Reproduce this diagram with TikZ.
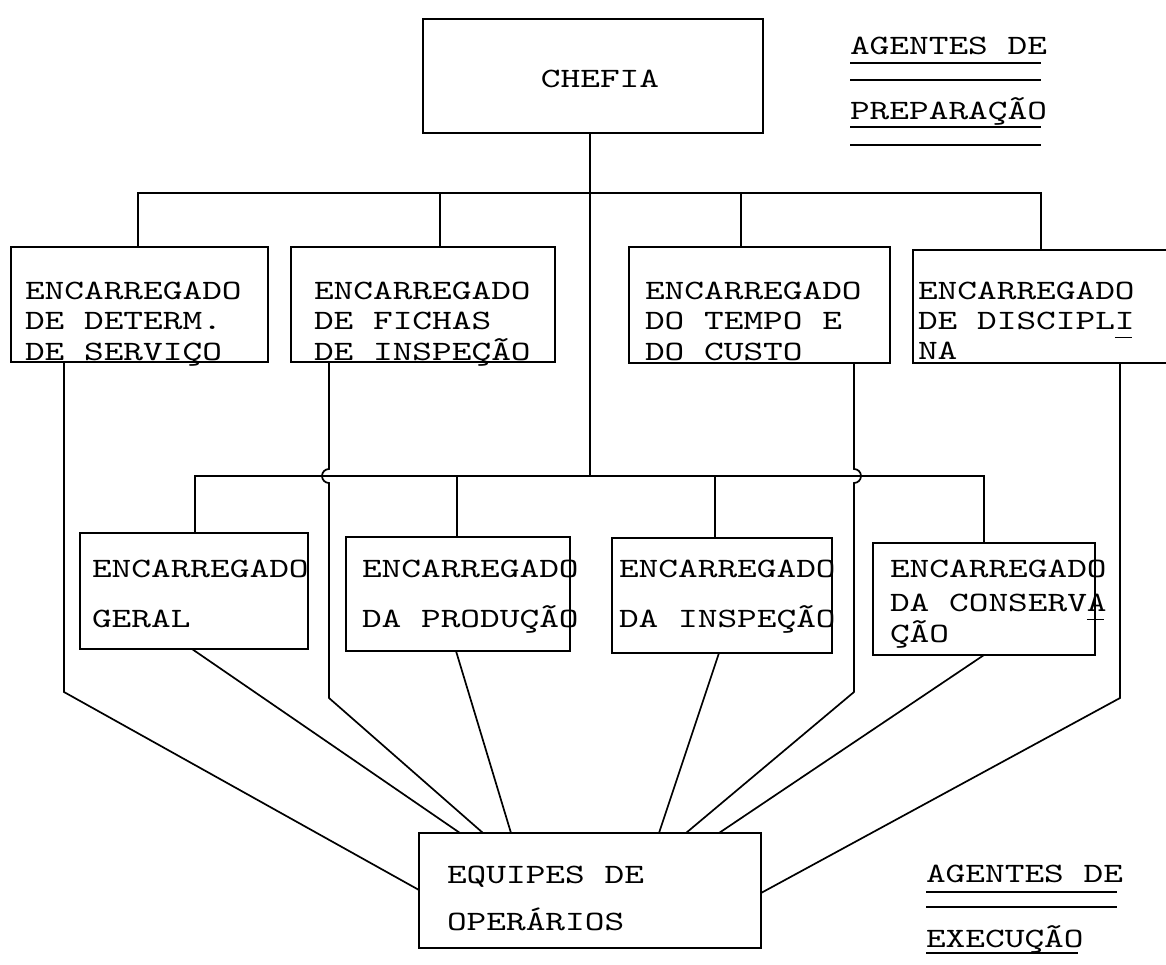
\documentclass[tikz,border=0pt]{standalone}
\usepackage{fontspec}
\newfontfamily\typewriter{lmmono10-regular.otf}[FakeStretch=1.34]
\usetikzlibrary{calc}
% short underscore placed under a letter, used as a hyphenation mark
\newcommand\ulmark[1]{\rlap{\rule[-9pt]{17pt}{1.3pt}}#1}
\begin{document}
\begin{tikzpicture}[x=1pt,y=-1pt,
  every node/.style={inner sep=0pt, outer sep=0pt},
  unit/.style={draw, line width=1.8pt, anchor=north west},
  txt/.style={font=\typewriter\fontsize{28}{32}\selectfont, anchor=base west},
  link/.style={line width=1.7pt},
  ruleline/.style={line width=1.5pt}]
\useasboundingbox (0,0) rectangle (1166,965);
\clip (0,0) rectangle (1166,965);

% ---- boxes ----
\node[unit, minimum width=340pt, minimum height=114pt] (chefia) at (423,19) {};
\node[unit, minimum width=257pt, minimum height=115pt] (b1) at (11,247) {};
\node[unit, minimum width=264pt, minimum height=115pt] (b2) at (291,247) {};
\node[unit, minimum width=261pt, minimum height=116pt] (b3) at (629,247) {};
\node[unit, minimum width=262pt, minimum height=113pt] (b4) at (913,250) {};
\node[unit, minimum width=228pt, minimum height=116pt] (b5) at (80,533) {};
\node[unit, minimum width=224pt, minimum height=114pt] (b6) at (346,537) {};
\node[unit, minimum width=220pt, minimum height=115pt] (b7) at (612,538) {};
\node[unit, minimum width=222pt, minimum height=112pt] (b8) at (873,543) {};
\node[unit, minimum width=342pt, minimum height=115pt] (eq) at (419,833) {};

% ---- texts ----
\node[txt, anchor=base] (chefia-t) at (600,88) {CHEFIA};
\foreach \s [count=\i] in {ENCARREGADO,DE DETERM.,DE SERVIÇO}
  \node[txt] (t1-\i) at (25,{300+30*(\i-1)}) {\s};
\foreach \s [count=\i] in {ENCARREGADO,DE FICHAS,DE INSPEÇÃO}
  \node[txt] (t2-\i) at (314,{300+30*(\i-1)}) {\s};
\foreach \s [count=\i] in {ENCARREGADO,DO TEMPO E,DO CUSTO}
  \node[txt] (t3-\i) at (645,{300+30*(\i-1)}) {\s};
\foreach \s [count=\i] in {ENCARREGADO,{DE DISCIPL\ulmark{I}},NA}
  \node[txt] (t4-\i) at (918,{299+30*(\i-1)}) {\s};
\foreach \s [count=\i] in {ENCARREGADO,GERAL}
  \node[txt] (t5-\i) at (92,{577+50*(\i-1)}) {\s};
\foreach \s [count=\i] in {ENCARREGADO,DA PRODUÇÃO}
  \node[txt] (t6-\i) at (362,{577+50*(\i-1)}) {\s};
\foreach \s [count=\i] in {ENCARREGADO,DA INSPEÇÃO}
  \node[txt] (t7-\i) at (619,{577+50*(\i-1)}) {\s};
\node[txt] (t8-1) at (890,577) {ENCARREGADO};
\node[txt] (t8-2) at (890,611) {DA CONSERV\ulmark{A}};
\node[txt] (t8-3) at (890,642) {ÇÃO};
\node[txt] (eq-1) at (447,883) {EQUIPES DE};
\node[txt] (eq-2) at (447,930) {OPERÁRIOS};

% ---- side captions with double underlines ----
\node[txt] (prep1) at (850,55) {AGENTES DE};
\node[txt] (prep2) at (850,120) {PREPARAÇÃO};
\draw[ruleline] ($(prep1.base west)+(0,8)$) -- ($(prep1.base east)+(-6,8)$);
\draw[ruleline] ($(prep1.base west)+(0,25)$) -- ($(prep1.base east)+(-6,25)$);
\draw[ruleline] ($(prep2.base west)+(0,7)$) -- ($(prep2.base east)+(-6,7)$);
\draw[ruleline] ($(prep2.base west)+(0,25)$) -- ($(prep2.base east)+(-6,25)$);

\node[txt] (exec1) at (926,882) {AGENTES DE};
\node[txt] (exec2) at (926,947) {EXECUÇÃO};
\draw[ruleline] ($(exec1.base west)+(0,10)$) -- ($(exec1.base east)+(-6,10)$);
\draw[ruleline] ($(exec1.base west)+(0,25)$) -- ($(exec1.base east)+(-6,25)$);
\draw[ruleline] ($(exec2.base west)+(0,6)$) -- ($(exec2.base east)+(-6,6)$);

% ---- upper and lower distribution buses ----
\coordinate (tb) at (590,193);
\coordinate (bb) at (590,476);
\draw[link] (chefia.south -| tb) -- (bb);
\draw[link] (b1.north -| 138,0) |- (tb) -| (b4.north -| 1041,0);
\draw[link] (b2.north -| 440,0) -- (tb -| 440,0);
\draw[link] (b3.north -| 741,0) -- (tb -| 741,0);
\draw[link] (b5.north -| 195,0) |- (bb) -| (b8.north -| 984,0);
\draw[link] (b6.north -| 457,0) -- (bb -| 457,0);
\draw[link] (b7.north -| 715,0) -- (bb -| 715,0);

% ---- links down to the work teams ----
\coordinate (k1) at (64,692);
\coordinate (k3) at (329,698);
\coordinate (k6) at (854,692);
\coordinate (k8) at (1120,698);
\draw[link] (b1.south -| k1) -- (k1) -- (eq.west |- 0,890);
\draw[link] (b5.south -| 192,0) -- (eq.north -| 460,0);
\draw[link] (b2.south -| k3) -- ($(bb -| k3)+(0,-7)$)
  arc[start angle=90, end angle=270, radius=7pt] -- (k3) -- (eq.north -| 483,0);
\draw[link] (b6.south -| 456,0) -- (eq.north -| 511,0);
\draw[link] (b7.south -| 719,0) -- (eq.north -| 659,0);
\draw[link] (b3.south -| k6) -- ($(bb -| k6)+(0,-7)$)
  arc[start angle=90, end angle=-90, radius=7pt] -- (k6) -- (eq.north -| 686,0);
\draw[link] (b8.south -| 984,0) -- (eq.north -| 719,0);
\draw[link] (b4.south -| k8) -- (k8) -- (eq.east |- 0,893);
\end{tikzpicture}
\end{document}
